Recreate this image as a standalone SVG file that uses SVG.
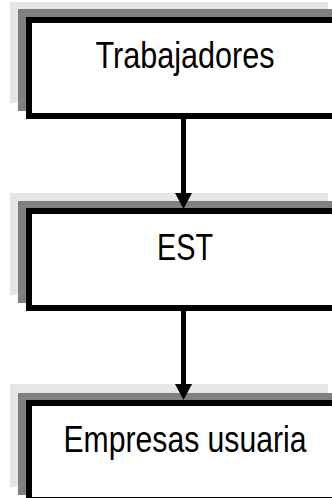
<svg xmlns="http://www.w3.org/2000/svg" width="332" height="498" viewBox="0 0 332 498">
  <style>
    .shade-light { fill: #e6e6e6; }
    .shade-dark { fill: #808080; }
    .box { fill: #ffffff; stroke: #000000; stroke-width: 6; }
    .label { font-family: "Liberation Sans", Arial, sans-serif; font-size: 36px; fill: #000000; text-anchor: middle; }
    .link { stroke: #000000; stroke-width: 5; fill: none; }
  </style>
  <defs>
    <marker id="arrowhead" markerUnits="userSpaceOnUse" markerWidth="16" markerHeight="17" refX="0" refY="8.5" orient="auto">
      <path d="M0,0 L16,8.5 L0,17 Z" fill="#000000"/>
    </marker>
  </defs>
  <rect width="332" height="498" fill="#ffffff"/>

  <!-- Layered frame: light shade, dark shade, then the white box with heavy border -->
  <g id="node-trabajadores">
    <rect class="shade-light" x="10" y="2" width="318" height="101"/>
    <rect class="shade-dark" x="18" y="9" width="330" height="102"/>
    <rect class="box" x="29" y="20" width="312" height="96"/>
    <text class="label" x="185" y="68" textLength="179" lengthAdjust="spacingAndGlyphs">Trabajadores</text>
  </g>

  <g id="node-est">
    <rect class="shade-light" x="10" y="193" width="318" height="102"/>
    <rect class="shade-dark" x="18" y="201" width="330" height="102"/>
    <rect class="box" x="29" y="211" width="312" height="97"/>
    <text class="label" x="185" y="260" textLength="56" lengthAdjust="spacingAndGlyphs">EST</text>
  </g>

  <g id="node-empresas">
    <rect class="shade-light" x="10" y="384" width="318" height="103"/>
    <rect class="shade-dark" x="18" y="393" width="330" height="102"/>
    <rect class="box" x="29" y="403" width="312" height="97"/>
    <text class="label" x="185" y="452" textLength="243" lengthAdjust="spacingAndGlyphs">Empresas usuaria</text>
  </g>

  <g id="connectors">
    <line class="link" x1="183.5" y1="119" x2="183.5" y2="193" marker-end="url(#arrowhead)"/>
    <line class="link" x1="183.5" y1="311" x2="183.5" y2="384" marker-end="url(#arrowhead)"/>
  </g>
</svg>
